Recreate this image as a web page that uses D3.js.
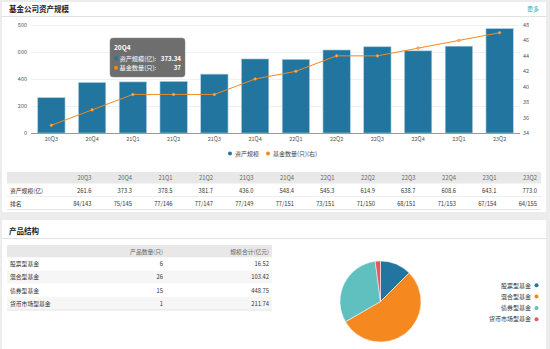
<!DOCTYPE html>
<html>
<head>
<meta charset="utf-8">
<script src="https://cdn.jsdelivr.net/npm/d3@7"></script>
<style>
body { margin: 0; background: #ececec; }
text { font-family: "Noto Sans CJK SC", "Liberation Sans", Arial, sans-serif; }
</style>
</head>
<body>
<div class="chart"></div>
<script>
// data
var quarters = ["20Q3","20Q4","21Q1","21Q2","21Q3","21Q4","22Q1","22Q2","22Q3","22Q4","23Q1","23Q2"];
var assets = [261.6, 373.3, 378.5, 381.7, 436.0, 548.4, 545.3, 614.9, 638.7, 608.6, 643.1, 773.0];
var fundCount = [35, 37, 39, 39, 39, 41, 42, 44, 44, 45, 46, 47];
var ranks = ["84/143","75/145","77/146","77/147","77/149","77/151","73/151","71/150","68/151","71/153","67/154","64/155"];
var leftTicks = [0, 200, 400, 600, 800];
var rightTicks = [34, 36, 38, 40, 42, 44, 46, 48];

var fundTypes = ["股票型基金","混合型基金","债券型基金","货币市场型基金"];
var typeCounts = [6, 26, 15, 1];
var typeScale = ["16.52","103.42","448.75","211.74"];
var typeColors = ["#22759f","#f5891f","#60bfbf","#e15a5f"];

var width = 550, height = 349;
var blue = "#22759f", orange = "#f5891f";

var svg = d3.select(".chart").append("svg")
    .attr("width", width)
    .attr("height", height);

// panels
svg.append("rect").attr("x", 2).attr("y", 2).attr("width", 544).attr("height", 210).attr("fill", "#fff");
svg.append("rect").attr("x", 2).attr("y", 220).attr("width", 544).attr("height", 130).attr("fill", "#fff");
svg.append("line").attr("x1", 2).attr("x2", 546).attr("y1", 16.5).attr("y2", 16.5).attr("stroke", "#e2e2e2");
svg.append("line").attr("x1", 2).attr("x2", 546).attr("y1", 238.5).attr("y2", 238.5).attr("stroke", "#e2e2e2");

svg.append("text").attr("x", 9).attr("y", 11.5)
    .style("font-size", "7.5px").style("font-weight", "bold").attr("fill", "#222")
    .text("基金公司资产规模");
svg.append("text").attr("x", 539).attr("y", 10.5).attr("text-anchor", "end")
    .style("font-size", "6px").attr("fill", "#3aaed0")
    .text("更多");
svg.append("text").attr("x", 9).attr("y", 233.5)
    .style("font-size", "7.5px").style("font-weight", "bold").attr("fill", "#222")
    .text("产品结构");

// combo chart
var x = d3.scaleBand().domain(quarters).range([31, 520]).paddingInner(0.33).paddingOuter(0.165);
var y = d3.scaleLinear().domain([0, 800]).range([133, 25]);
var y2 = d3.scaleLinear().domain([34, 48]).range([133, 25]);

var g = svg.append("g");

g.selectAll(".grid").data(leftTicks.slice(1)).enter().append("line")
    .attr("x1", 31).attr("x2", 520)
    .attr("y1", function(d){ return Math.round(y(d)) + 0.5; })
    .attr("y2", function(d){ return Math.round(y(d)) + 0.5; })
    .attr("stroke", "#f0f0f0");

g.selectAll(".bar").data(assets).enter().append("rect")
    .attr("x", function(d, i){ return x(quarters[i]); })
    .attr("y", function(d){ return y(d); })
    .attr("width", x.bandwidth())
    .attr("height", function(d){ return y(0) - y(d); })
    .attr("fill", blue)
    .attr("stroke", "#a9cbe0")
    .attr("stroke-width", 0.6);

g.append("line").attr("x1", 31).attr("x2", 520).attr("y1", 133.5).attr("y2", 133.5).attr("stroke", "#999");

g.selectAll(".yl").data(leftTicks).enter().append("text")
    .attr("x", 27).attr("y", function(d){ return y(d) + 2; })
    .attr("text-anchor", "end").style("font-size", "5.5px").attr("fill", "#555")
    .text(function(d){ return d; });

g.selectAll(".yr").data(rightTicks).enter().append("text")
    .attr("x", 523).attr("y", function(d){ return y2(d) + 2; })
    .style("font-size", "5.5px").attr("fill", "#555")
    .text(function(d){ return d; });

g.selectAll(".xl").data(quarters).enter().append("text")
    .attr("x", function(d){ return x(d) + x.bandwidth() / 2; })
    .attr("y", 141)
    .attr("text-anchor", "middle").style("font-size", "5.5px").attr("fill", "#555")
    .text(function(d){ return d; });

var line = d3.line()
    .x(function(d, i){ return x(quarters[i]) + x.bandwidth() / 2; })
    .y(function(d){ return y2(d); });

g.append("path").datum(fundCount)
    .attr("d", line).attr("fill", "none")
    .attr("stroke", orange).attr("stroke-width", 1);

g.selectAll(".dot").data(fundCount).enter().append("circle")
    .attr("cx", function(d, i){ return x(quarters[i]) + x.bandwidth() / 2; })
    .attr("cy", function(d){ return y2(d); })
    .attr("r", 1.3)
    .attr("fill", "#fbb36a").attr("stroke", orange).attr("stroke-width", 0.6);

// legend
var leg = svg.append("g");
leg.append("circle").attr("cx", 230).attr("cy", 153.5).attr("r", 2).attr("fill", blue);
leg.append("text").attr("x", 235).attr("y", 156).style("font-size", "6px").attr("fill", "#444").text("资产规模");
leg.append("circle").attr("cx", 268).attr("cy", 153.5).attr("r", 2).attr("fill", orange);
leg.append("text").attr("x", 273).attr("y", 156).style("font-size", "6px").attr("fill", "#444").text("基金数量(只)(右)");

// tooltip
var tip = svg.append("g");
tip.append("rect").attr("x", 110).attr("y", 38).attr("width", 75).attr("height", 39).attr("rx", 3)
    .attr("fill", "#5e5e5e").attr("fill-opacity", 0.9).attr("stroke", "#888").attr("stroke-width", 0.5);
tip.append("text").attr("x", 114).attr("y", 49.5).style("font-size", "6.5px").style("font-weight", "bold")
    .attr("fill", "#fff").text(quarters[1]);
tip.append("circle").attr("cx", 116).attr("cy", 58.3).attr("r", 2).attr("fill", blue);
tip.append("text").attr("x", 119.5).attr("y", 60.5).style("font-size", "6.2px").attr("fill", "#fff").text("资产规模(亿):");
tip.append("text").attr("x", 181).attr("y", 60.5).attr("text-anchor", "end").style("font-size", "6.2px")
    .style("font-weight", "bold").attr("fill", "#fff").text("373.34");
tip.append("circle").attr("cx", 116).attr("cy", 67.8).attr("r", 2).attr("fill", orange);
tip.append("text").attr("x", 119.5).attr("y", 70).style("font-size", "6.2px").attr("fill", "#fff").text("基金数量(只):");
tip.append("text").attr("x", 181).attr("y", 70).attr("text-anchor", "end").style("font-size", "6.2px")
    .style("font-weight", "bold").attr("fill", "#fff").text(fundCount[1]);

// quarterly table
var tb = svg.append("g");
tb.append("rect").attr("x", 7).attr("y", 172).attr("width", 534).attr("height", 11.5).attr("fill", "#e8e8e8");
tb.append("line").attr("x1", 7).attr("x2", 541).attr("y1", 196.5).attr("y2", 196.5).attr("stroke", "#eee");
tb.append("line").attr("x1", 7).attr("x2", 541).attr("y1", 209.5).attr("y2", 209.5).attr("stroke", "#e4e4e4");
var colRight = function(i){ return 537 - (11 - i) * 40.5; };

tb.selectAll(".th").data(quarters).enter().append("text")
    .attr("x", function(d, i){ return colRight(i); }).attr("y", 180)
    .attr("text-anchor", "end").style("font-size", "5.8px").attr("fill", "#666")
    .text(function(d){ return d; });
tb.selectAll(".ta").data(assets).enter().append("text")
    .attr("x", function(d, i){ return colRight(i); }).attr("y", 192.5)
    .attr("text-anchor", "end").style("font-size", "5.8px").attr("fill", "#333")
    .text(function(d){ return d.toFixed(1); });
tb.selectAll(".tr").data(ranks).enter().append("text")
    .attr("x", function(d, i){ return colRight(i); }).attr("y", 205.5)
    .attr("text-anchor", "end").style("font-size", "5.8px").attr("fill", "#333")
    .text(function(d){ return d; });
tb.append("text").attr("x", 10).attr("y", 192.5).style("font-size", "5.8px").attr("fill", "#333").text("资产规模(亿)");
tb.append("text").attr("x", 10).attr("y", 205.5).style("font-size", "5.8px").attr("fill", "#333").text("排名");

// product table
var pt = svg.append("g");
pt.append("rect").attr("x", 7).attr("y", 245).attr("width", 265).attr("height", 12.5).attr("fill", "#e8e8e8");
pt.append("text").attr("x", 163).attr("y", 253.5).attr("text-anchor", "end")
    .style("font-size", "5.8px").attr("fill", "#666").text("产品数量(只)");
pt.append("text").attr("x", 269).attr("y", 253.5).attr("text-anchor", "end")
    .style("font-size", "5.8px").attr("fill", "#666").text("规模合计(亿元)");

var rowY = d3.scaleBand().domain(fundTypes).range([257.5, 310]);
pt.selectAll(".rbg").data(fundTypes).enter().append("rect")
    .attr("x", 7).attr("y", function(d){ return rowY(d); })
    .attr("width", 265).attr("height", rowY.bandwidth())
    .attr("fill", function(d, i){ return i % 2 ? "#f6f6f6" : "#fff"; });
pt.append("line").attr("x1", 7).attr("x2", 272).attr("y1", 310).attr("y2", 310).attr("stroke", "#e4e4e4");
pt.selectAll(".rn").data(fundTypes).enter().append("text")
    .attr("x", 10).attr("y", function(d){ return rowY(d) + 8.8; })
    .style("font-size", "5.8px").attr("fill", "#333").text(function(d){ return d; });
pt.selectAll(".rc").data(typeCounts).enter().append("text")
    .attr("x", 163).attr("y", function(d, i){ return rowY(fundTypes[i]) + 8.8; })
    .attr("text-anchor", "end").style("font-size", "5.8px").attr("fill", "#333").text(function(d){ return d; });
pt.selectAll(".rs").data(typeScale).enter().append("text")
    .attr("x", 269).attr("y", function(d, i){ return rowY(fundTypes[i]) + 8.8; })
    .attr("text-anchor", "end").style("font-size", "5.8px").attr("fill", "#333").text(function(d){ return d; });

// pie
var pie = d3.pie().sort(null);
var arc = d3.arc().innerRadius(0).outerRadius(40.5);
var pg = svg.append("g").attr("transform", "translate(380.5,301.5)");
pg.selectAll("path").data(pie(typeCounts)).enter().append("path")
    .attr("d", arc)
    .attr("fill", function(d, i){ return typeColors[i]; })
    .attr("stroke", "#fff").attr("stroke-width", 0.5);

var pl = svg.append("g");
pl.selectAll("text").data(fundTypes).enter().append("text")
    .attr("x", 531).attr("y", function(d, i){ return 287.5 + i * 11.3; })
    .attr("text-anchor", "end").style("font-size", "6px").attr("fill", "#333")
    .text(function(d){ return d; });
pl.selectAll("circle").data(fundTypes).enter().append("circle")
    .attr("cx", 536.5).attr("cy", function(d, i){ return 285.3 + i * 11.3; })
    .attr("r", 2).attr("fill", function(d, i){ return typeColors[i]; });
</script>
</body>
</html>
